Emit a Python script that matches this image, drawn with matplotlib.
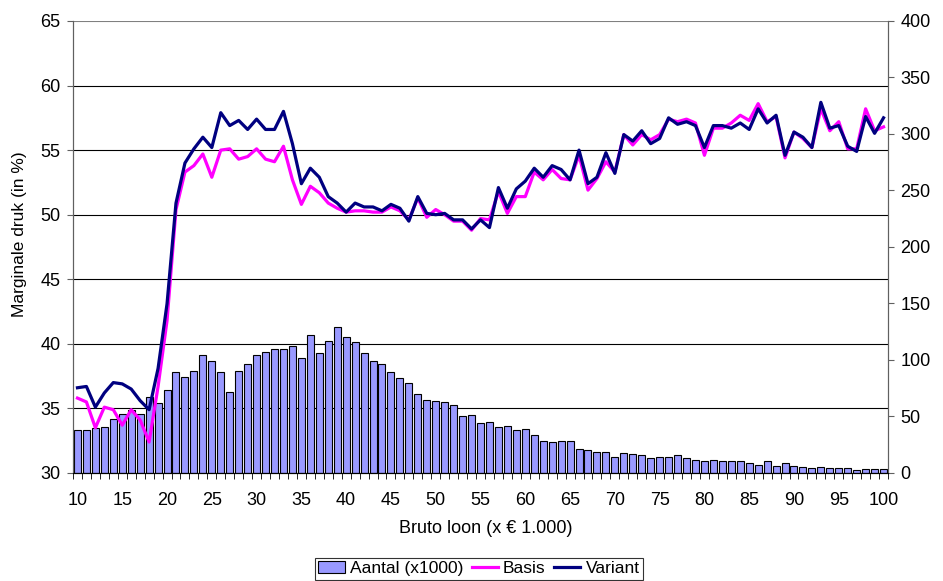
import matplotlib
matplotlib.use("Agg")
import matplotlib.pyplot as plt
from matplotlib.transforms import blended_transform_factory
from matplotlib.patches import Patch
from matplotlib.lines import Line2D
import numpy as np

plt.rcParams['font.family'] = ['Liberation Sans', 'DejaVu Sans']

# Bruto loon (x 1000 euro), one category per 1000
loon = list(range(10, 101))

# Aantal (x1000) - right axis
aantal = [38, 38, 40, 41, 47.5, 52, 56, 52, 67, 62,
          73, 89, 85, 90.5, 104, 99, 89, 72, 90.5, 96.5,
          104, 107, 109.5, 109.5, 112, 102, 122, 106, 116.5, 129.5,
          120, 116, 106, 99.5, 96.5, 89, 84, 80, 70, 64.5,
          63.5, 62.5, 60.5, 50.5, 51.5, 44.5, 45.5, 40.5, 42, 38,
          39, 33.5, 28.5, 27.5, 28.5, 28.5, 21.5, 20.5, 18.5, 18.5,
          14.5, 18, 16.5, 15.5, 13.5, 14.5, 14.5, 15.5, 13.5, 11.5,
          10.5, 11.5, 10.5, 10.5, 10.5, 8.5, 7.5, 10.5, 6, 8.5,
          6, 5, 4.5, 5, 4.5, 4, 4.5, 3, 3.5, 3.5, 3.5]

# Marginale druk (in %) - left axis
basis = [35.8, 35.5, 33.5, 35.1, 34.9, 33.7, 34.9, 34.1, 32.4, 36.7,
         41.8, 50.4, 53.3, 53.8, 54.7, 52.9, 55.0, 55.1, 54.3, 54.5,
         55.1, 54.3, 54.1, 55.3, 52.7, 50.8, 52.2, 51.7, 50.9, 50.5,
         50.2, 50.3, 50.3, 50.2, 50.2, 50.6, 50.3, 49.6, 51.3, 49.8,
         50.4, 50.0, 49.5, 49.5, 48.8, 49.7, 49.6, 51.8, 50.1, 51.4,
         51.4, 53.3, 52.7, 53.5, 52.8, 52.7, 54.6, 51.9, 52.8, 54.1,
         53.3, 56.2, 55.4, 56.2, 55.8, 56.2, 57.4, 57.2, 57.4, 57.1,
         54.6, 56.7, 56.7, 57.1, 57.7, 57.3, 58.6, 57.2, 57.6, 54.4,
         56.4, 55.9, 55.2, 58.2, 56.5, 57.2, 55.1, 55.1, 58.2, 56.5, 56.8]

variant = [36.6, 36.7, 35.1, 36.2, 37.0, 36.9, 36.5, 35.6, 34.9, 38.1,
           43.1, 50.9, 54.0, 55.1, 56.0, 55.2, 57.9, 56.9, 57.3, 56.6,
           57.4, 56.6, 56.6, 58.0, 55.5, 52.4, 53.6, 52.9, 51.4, 50.9,
           50.2, 50.9, 50.6, 50.6, 50.3, 50.8, 50.5, 49.5, 51.4, 50.1,
           50.0, 50.1, 49.6, 49.6, 48.9, 49.6, 49.0, 52.1, 50.5, 52.0,
           52.6, 53.6, 52.9, 53.8, 53.5, 52.7, 55.0, 52.4, 52.9, 54.8,
           53.2, 56.2, 55.7, 56.5, 55.5, 55.9, 57.5, 57.0, 57.2, 56.9,
           55.2, 56.9, 56.9, 56.7, 57.1, 56.6, 58.2, 57.1, 57.7, 54.6,
           56.4, 56.0, 55.2, 58.7, 56.7, 56.9, 55.3, 54.9, 57.6, 56.3, 57.5]

fig = plt.figure(figsize=(9.43, 5.81), dpi=100)
ax = fig.add_axes([0.0774, 0.1859, 0.8643, 0.778])
ax2 = ax.twinx()

# lines on top of the bars
ax.set_zorder(2)
ax.patch.set_visible(False)
ax2.set_zorder(1)

ax2.bar(loon, aantal, width=0.78, color='#9999FF', edgecolor='black', linewidth=0.8, zorder=2)

ax.plot(loon, basis, color='#FF00FF', linewidth=2.3, zorder=3)
ax.plot(loon, variant, color='#000080', linewidth=2.3, zorder=4)

ax.set_xlim(9.5, 100.5)
ax.set_ylim(30, 65)
ax2.set_ylim(0, 400)

# gridlines behind the bars
tr = blended_transform_factory(ax2.transAxes, ax.transData)
for g in range(35, 70, 5):
    ax2.plot([0, 1], [g, g], color='black' if g < 65 else '#808080',
             linewidth=0.8, transform=tr, zorder=0)

ax.set_yticks(range(30, 66, 5))
ax2.set_yticks(range(0, 401, 50))
ax.set_xticks(range(10, 101, 5))
ax.set_xticks(np.arange(9.5, 101, 1), minor=True)

for a in (ax, ax2):
    a.spines['top'].set_visible(False)
    a.spines['left'].set_color('#606060')
    a.spines['right'].set_color('#606060')
    a.spines['bottom'].set_color('black')
    a.tick_params(labelsize=13, direction='out', length=4, color='#606060', pad=5)

ax.tick_params(axis='x', which='major', length=0, pad=14)
ax.tick_params(axis='x', which='minor', length=4.3, color='black')

ax.set_ylabel('Marginale druk (in %)', fontsize=12.5)
ax.yaxis.set_label_coords(-0.056, 0.528)
ax.set_xlabel('Bruto loon (x € 1.000)', fontsize=13)
ax.xaxis.set_label_coords(0.506, -0.104)

handles = [Patch(facecolor='#9999FF', edgecolor='black', linewidth=0.8),
           Line2D([], [], color='#FF00FF', linewidth=2.3),
           Line2D([], [], color='#000080', linewidth=2.3)]
leg = fig.legend(handles, ['Aantal (x1000)', 'Basis', 'Variant'], loc='upper center',
                 bbox_to_anchor=(0.508, 0.04), ncol=3, fontsize=12.5, frameon=True,
                 fancybox=False, edgecolor='black', handlelength=1.5, handletextpad=0.3,
                 columnspacing=0.5, borderpad=0.2, borderaxespad=0)
leg.get_frame().set_linewidth(0.8)

fig.savefig('out.png', dpi=100)
